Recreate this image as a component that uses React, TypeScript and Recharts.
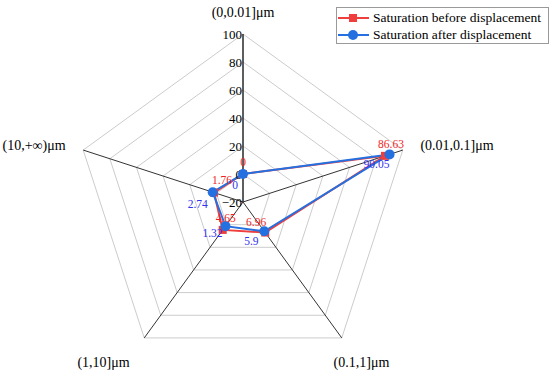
import {
  LabelList,
  PolarAngleAxis,
  PolarGrid,
  PolarRadiusAxis,
  Radar,
  RadarChart,
} from "recharts";

const categories = [
  "(0,0.01]μm",
  "(0.01,0.1]μm",
  "(0.1,1]μm",
  "(1,10]μm",
  "(10,+∞)μm",
];
const before = [0, 86.63, 6.96, 4.65, 1.76];
const after = [0, 90.05, 5.9, 1.32, 2.74];
const radiusTicks = [-20, 0, 20, 40, 60, 80, 100];

const RED = "#EF3E3E";
const BLUE = "#2570E0";
const RED_TEXT = "#F01E1E";
const BLUE_TEXT = "#3232EE";
const FONT = '"Liberation Serif", "Times New Roman", serif';

// label nudges relative to the point, one per category
const redOffsets = [
  [0, -12],
  [6, -12],
  [-9, -11],
  [3, -12],
  [8, -13],
];
const blueOffsets = [
  [-8, 11],
  [-13, 10],
  [-13, 10],
  [-13, 7],
  [-15, 12],
];
// category label nudges relative to the angle-axis tick point
const catOffsets: [number, number, "start" | "middle" | "end"][] = [
  [0, -14, "middle"],
  [10, -2, "start"],
  [15, 18, "middle"],
  [-36, 18, "middle"],
  [-10, -2, "end"],
];

const data = categories.map((c, i) => ({ name: c, before: before[i], after: after[i] }));

const makeLabel = (offsets: number[][], color: string) => (p: any) => {
  const [dx, dy] = offsets[p.index] ?? [0, -10];
  return (
    <text
      x={p.x + dx}
      y={p.y + dy}
      fill={color}
      stroke="none"
      fontSize={11.5}
      fontFamily={FONT}
      textAnchor="middle"
      dominantBaseline="central"
    >
      {p.value}
    </text>
  );
};

const SquareDot = (p: any) => (
  <rect key={`sq-${p.index}`} x={p.cx - 4} y={p.cy - 4} width={8} height={8} fill={RED} />
);
const CircleDot = (p: any) => (
  <circle key={`ci-${p.index}`} cx={p.cx} cy={p.cy} r={5} fill={BLUE} />
);

function LegendBox() {
  const rows = [
    { label: "Saturation before displacement", color: RED, square: true },
    { label: "Saturation after displacement", color: BLUE, square: false },
  ];
  return (
    <div
      style={{
        position: "absolute",
        left: 336,
        top: 7,
        width: 211,
        height: 35,
        border: "1px solid #9a9a9a",
        background: "#fff",
        fontFamily: FONT,
        fontSize: 13.5,
      }}
    >
      {rows.map((r, i) => (
        <div
          key={r.label}
          style={{
            position: "absolute",
            left: 0,
            top: 1 + i * 17,
            height: 17,
            display: "flex",
            alignItems: "center",
          }}
        >
          <svg width={34} height={16}>
            <line x1={1} y1={8} x2={32} y2={8} stroke={r.color} strokeWidth={2} />
            {r.square ? (
              <rect x={12} y={4} width={8} height={8} fill={r.color} />
            ) : (
              <circle cx={16} cy={8} r={5} fill={r.color} />
            )}
          </svg>
          <span style={{ marginLeft: 2, whiteSpace: "nowrap", color: "#000" }}>{r.label}</span>
        </div>
      ))}
    </div>
  );
}

export default function App() {
  return (
    <div style={{ position: "absolute", left: 0, top: 0, width: 550, height: 374, background: "#fff" }}>
      <RadarChart
        width={550}
        height={374}
        data={data}
        cx={243}
        cy={202}
        outerRadius={168}
        margin={{ top: 0, right: 0, bottom: 0, left: 0 }}
      >
        <PolarGrid gridType="polygon" stroke="#cccccc" radialLines={false} />
        <PolarGrid gridType="polygon" stroke="#333333" polarRadius={[]} />
        <PolarAngleAxis
          dataKey="name"
          axisLine={false}
          tickLine={false}
          tick={(p: any) => {
            const [dx, dy, anchor] = catOffsets[p.index] ?? [0, 0, "middle"];
            return (
              <text
                x={p.x + dx}
                y={p.y + dy}
                textAnchor={anchor}
                dominantBaseline="central"
                fontSize={14}
                fontFamily={FONT}
                fill="#000"
                stroke="none"
              >
                {p.payload.value}
              </text>
            );
          }}
        />
        <PolarRadiusAxis
          angle={90}
          domain={[-20, 100]}
          ticks={radiusTicks as any}
          tickCount={7}
          axisLine={{ stroke: "#222" }}
          tickLine={false}
          tick={(p: any) => (
            <text
              x={p.x - 1}
              y={p.y}
              textAnchor="end"
              dominantBaseline="central"
              fontSize={13}
              fontFamily={FONT}
              fill="#000"
              stroke="none"
            >
              {p.payload.value < 0 ? `\u2212${Math.abs(p.payload.value)}` : p.payload.value}
            </text>
          )}
        />
        <Radar
          name="Saturation before displacement"
          dataKey="before"
          stroke={RED}
          strokeWidth={2}
          fill="none"
          fillOpacity={0}
          dot={SquareDot}
          isAnimationActive={false}
        >
          <LabelList dataKey="before" content={makeLabel(redOffsets, RED_TEXT)} />
        </Radar>
        <Radar
          name="Saturation after displacement"
          dataKey="after"
          stroke={BLUE}
          strokeWidth={2}
          fill="none"
          fillOpacity={0}
          dot={CircleDot}
          isAnimationActive={false}
        >
          <LabelList dataKey="after" content={makeLabel(blueOffsets, BLUE_TEXT)} />
        </Radar>
      </RadarChart>
      <LegendBox />
    </div>
  );
}
